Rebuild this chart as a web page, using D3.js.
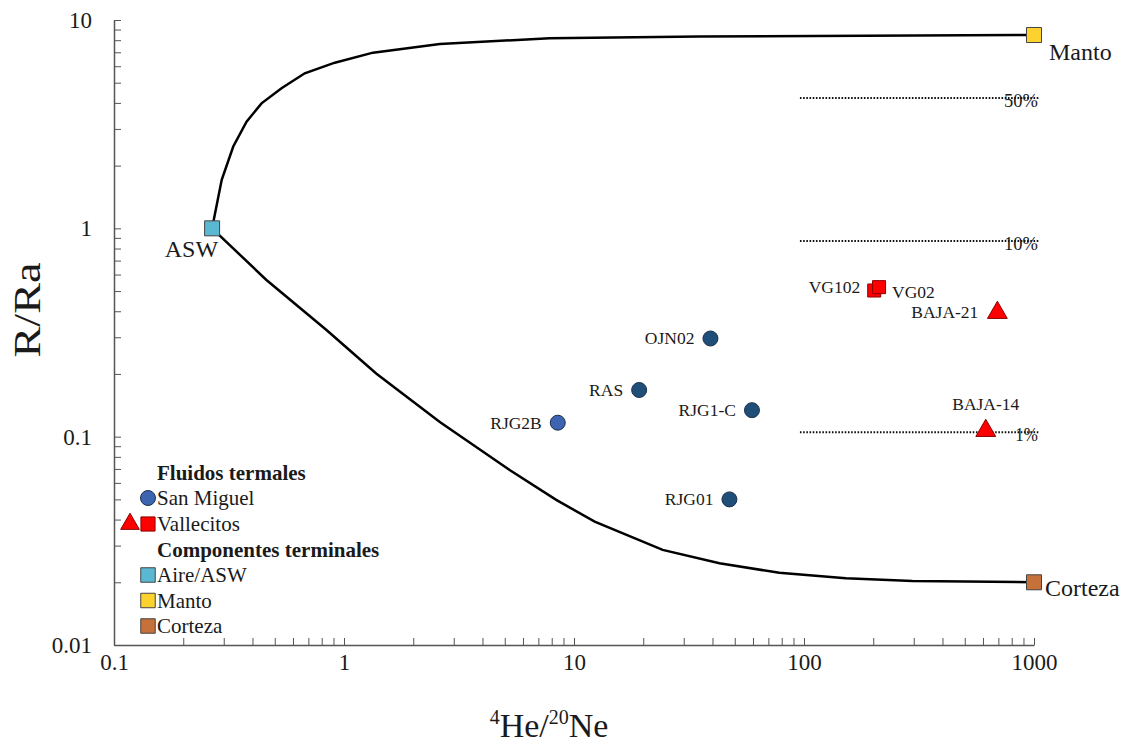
<!DOCTYPE html>
<html>
<head>
<meta charset="utf-8">
<script src="https://cdn.jsdelivr.net/npm/d3@7"></script>
<style>
  body { margin: 0; background: #fff; }
  text { font-family: "Liberation Serif", "Times New Roman", serif; fill: #1a1a1a; }
</style>
</head>
<body>
<svg id="chart" width="1125" height="743"></svg>
<script>
// ---------- data ----------
const xTickLabels = ["0.1", "1", "10", "100", "1000"];
const yTickLabels = ["0.01", "0.1", "1", "10"];

// mixing curve ASW -> Manto
const mantoCurveX = [0.267, 0.294, 0.330, 0.377, 0.438, 0.535, 0.675, 0.912, 1.337, 2.61, 7.83, 35.1, 1000];
const mantoCurveY = [1.0, 1.71, 2.47, 3.25, 3.98, 4.70, 5.55, 6.24, 6.97, 7.67, 8.17, 8.33, 8.47];

// mixing curve ASW -> Corteza
const cortezaCurveX = [0.267, 0.460, 0.839, 1.38, 2.61, 5.25, 8.37, 12.3, 24.3, 42.9, 78.1, 152, 296, 1000];
const cortezaCurveY = [1.0, 0.565, 0.325, 0.201, 0.1175, 0.0692, 0.0497, 0.0391, 0.0286, 0.0247, 0.0222, 0.0209, 0.0203, 0.0200];

// San Miguel samples
const smNames = ["RJG2B", "RAS", "OJN02", "RJG1-C", "RJG01"];
const smX = [8.5, 19.2, 39.2, 59.4, 47.4];
const smY = [0.1167, 0.1675, 0.296, 0.134, 0.050];
const smColor = ["#3c64b1", "#1f4e79", "#1f4e79", "#1f4e79", "#1f4e79"];

// Vallecitos samples
const vaNames = ["VG102", "VG02", "BAJA-21", "BAJA-14"];
const vaX = [202, 212, 693, 617];
const vaY = [0.503, 0.522, 0.398, 0.108];
const vaShape = ["square", "square", "triangle", "triangle"];

// end members
const emNames = ["ASW", "Manto", "Corteza"];
const emX = [0.267, 1000, 1000];
const emY = [1.0, 8.47, 0.020];
const emColor = ["#5bb8d2", "#fdd22f", "#c6713a"];

// mixing-percentage reference lines
const pctLabels = ["50%", "10%", "1%"];
const pctY = [4.22, 0.869, 0.105];
const pctX0 = 96, pctX1 = 1050;

// ---------- chart ----------
const svg = d3.select("#chart");
const x = d3.scaleLog().domain([0.1, 1000]).range([114, 1034]);
const y = d3.scaleLog().domain([0.01, 10]).range([645, 20]);

const allTicks = (lo, hi) => {
  const t = [];
  for (let e = lo; e < hi; e++) for (let m = 1; m < 10; m++) t.push(m * Math.pow(10, e));
  t.push(Math.pow(10, hi));
  return t;
};
const majorFmt = (labels, lo) => d => {
  const e = Math.log10(d);
  return Math.abs(e - Math.round(e)) < 1e-9 ? labels[Math.round(e) - lo] : "";
};

const xAxis = d3.axisBottom(x).tickValues(allTicks(-1, 3)).tickFormat(majorFmt(xTickLabels, -1))
  .tickSizeInner(-7).tickSizeOuter(0).tickPadding(9);
const yAxis = d3.axisLeft(y).tickValues(allTicks(-2, 1)).tickFormat(majorFmt(yTickLabels, -2))
  .tickSizeInner(-7).tickSizeOuter(0).tickPadding(22);

const gx = svg.append("g").attr("transform", "translate(0,645)").call(xAxis);
const gy = svg.append("g").attr("transform", "translate(114,0)").call(yAxis);
[gx, gy].forEach(g => {
  g.select(".domain").attr("stroke", "#555").attr("stroke-width", 1.5);
  g.selectAll(".tick line").attr("stroke", "#555").attr("stroke-width", 1);
  g.selectAll(".tick text").style("font-family", "Liberation Serif").style("font-size", "23px").attr("fill", "#1a1a1a");
});

// axis titles
svg.append("text").attr("transform", "translate(40,310) rotate(-90)").attr("text-anchor", "middle")
  .style("font-size", "37px").attr("textLength", 95).attr("lengthAdjust", "spacingAndGlyphs").text("R/Ra");
const xt = svg.append("text").attr("x", 549).attr("y", 737).attr("text-anchor", "middle").style("font-size", "34px");
xt.append("tspan").style("font-size", "20px").attr("dy", -13).text("4");
xt.append("tspan").attr("dy", 13).text("He/");
xt.append("tspan").style("font-size", "20px").attr("dy", -13).text("20");
xt.append("tspan").attr("dy", 13).text("Ne");

// percentage dotted lines
pctY.forEach((v, i) => {
  svg.append("line").attr("x1", x(pctX0)).attr("x2", x(pctX1)).attr("y1", y(v)).attr("y2", y(v))
    .attr("stroke", "#111").attr("stroke-width", 2).attr("stroke-dasharray", "1.6,1.6");
  svg.append("text").attr("x", x(pctX1) - 1).attr("y", y(v) + 9).attr("text-anchor", "end")
    .style("font-size", "18px").attr("textLength", pctLabels[i].length * 11.3).attr("lengthAdjust", "spacingAndGlyphs")
    .text(pctLabels[i]);
});

// mixing curves
const line = d3.line().x(d => x(d[0])).y(d => y(d[1]));
svg.append("path").datum(mantoCurveX.map((v, i) => [v, mantoCurveY[i]]))
  .attr("d", line).attr("fill", "none").attr("stroke", "#000").attr("stroke-width", 2.5);
svg.append("path").datum(cortezaCurveX.map((v, i) => [v, cortezaCurveY[i]]))
  .attr("d", line).attr("fill", "none").attr("stroke", "#000").attr("stroke-width", 2.5);

// symbols
const sq = d3.symbol().type(d3.symbolSquare).size(225);

// end members
emNames.forEach((n, i) => {
  svg.append("path").attr("d", sq).attr("transform", `translate(${x(emX[i])},${y(emY[i])})`)
    .attr("fill", emColor[i]).attr("stroke", "#444").attr("stroke-width", 1);
});
svg.append("text").attr("x", x(emX[0]) + 6).attr("y", y(emY[0]) + 29).attr("text-anchor", "end")
  .style("font-size", "24px").text(emNames[0]);
svg.append("text").attr("x", x(emX[1]) + 15).attr("y", y(emY[1]) + 25)
  .style("font-size", "24px").text(emNames[1]);
svg.append("text").attr("x", x(emX[2]) + 11).attr("y", y(emY[2]) + 14)
  .style("font-size", "24px").text(emNames[2]);

// San Miguel
smNames.forEach((n, i) => {
  svg.append("circle").attr("cx", x(smX[i])).attr("cy", y(smY[i])).attr("r", 7.5)
    .attr("fill", smColor[i]).attr("stroke", "#1b2f4a").attr("stroke-width", 1);
  svg.append("text").attr("x", x(smX[i]) - 16).attr("y", y(smY[i]) + 6).attr("text-anchor", "end")
    .style("font-size", "17.5px").text(n);
});

// Vallecitos
vaNames.forEach((n, i) => {
  const cx = x(vaX[i]), cy = y(vaY[i]);
  if (vaShape[i] === "square") {
    svg.append("path").attr("d", d3.symbol().type(d3.symbolSquare).size(170))
      .attr("transform", `translate(${cx},${cy})`).attr("fill", "#ff0000").attr("stroke", "#8b0000").attr("stroke-width", 1);
  } else {
    svg.append("path").attr("d", d3.symbol().type(d3.symbolTriangle).size(170))
      .attr("transform", `translate(${cx},${cy + 1})`).attr("fill", "#ff0000").attr("stroke", "#8b0000").attr("stroke-width", 1);
  }
});
const va = i => [x(vaX[i]), y(vaY[i])];
svg.append("text").attr("x", va(0)[0] - 14).attr("y", va(0)[1] + 2).attr("text-anchor", "end").style("font-size", "17.5px").text(vaNames[0]);
svg.append("text").attr("x", va(1)[0] + 13).attr("y", va(1)[1] + 11).style("font-size", "17.5px").text(vaNames[1]);
svg.append("text").attr("x", va(2)[0] - 19).attr("y", va(2)[1] + 6).attr("text-anchor", "end").style("font-size", "17.5px").text(vaNames[2]);
svg.append("text").attr("x", va(3)[0]).attr("y", va(3)[1] - 20).attr("text-anchor", "middle").style("font-size", "17.5px").text(vaNames[3]);

// legend
const lg = svg.append("g");
const lx = 148, tx = 157;
const fs = "21px";
lg.append("text").attr("x", tx).attr("y", 480).style("font-size", "21px").style("font-weight", "bold").text("Fluidos termales");
lg.append("circle").attr("cx", lx).attr("cy", 498).attr("r", 7.5).attr("fill", "#3c64b1").attr("stroke", "#1b2f4a");
lg.append("text").attr("x", tx).attr("y", 505).style("font-size", fs).text("San Miguel");
lg.append("path").attr("d", d3.symbol().type(d3.symbolTriangle).size(150)).attr("transform", "translate(130,524)")
  .attr("fill", "#ff0000").attr("stroke", "#8b0000");
lg.append("path").attr("d", d3.symbol().type(d3.symbolSquare).size(200)).attr("transform", `translate(${lx},524)`)
  .attr("fill", "#ff0000").attr("stroke", "#8b0000");
lg.append("text").attr("x", tx).attr("y", 531).style("font-size", fs).text("Vallecitos");
lg.append("text").attr("x", tx).attr("y", 557).style("font-size", "21px").style("font-weight", "bold").text("Componentes terminales");
const legEM = ["Aire/ASW", "Manto", "Corteza"];
legEM.forEach((n, i) => {
  const cy = 575 + i * 25.5;
  lg.append("path").attr("d", d3.symbol().type(d3.symbolSquare).size(210)).attr("transform", `translate(${lx},${cy})`)
    .attr("fill", emColor[i]).attr("stroke", "#444");
  lg.append("text").attr("x", tx).attr("y", cy + 7).style("font-size", fs).text(n);
});
</script>
</body>
</html>
